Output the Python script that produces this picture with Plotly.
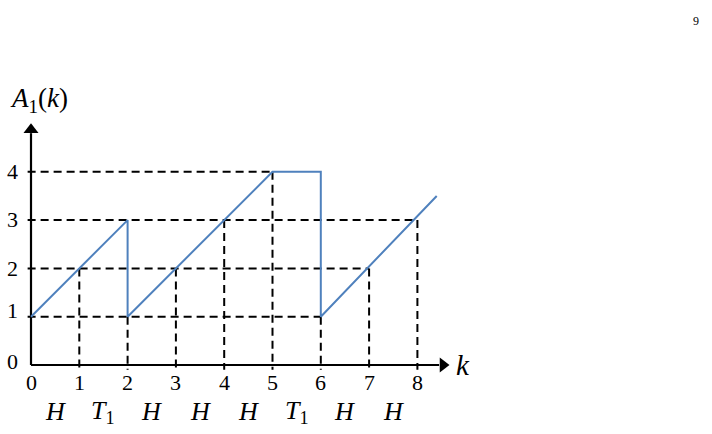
import plotly.graph_objects as go

# ---- data ----
blue_k = [0, 2, 2, 5, 6, 6, 8.4]
blue_a = [1, 3, 1, 4, 4, 1, 3.5]

h_levels = [1, 2, 3, 4]
h_ends = [6, 7, 8, 5]

v_ks = [1, 2, 3, 4, 5, 6, 7, 8]
v_tops = [2, 1, 2, 3, 4, 1, 2, 3]

x_ticks = [0, 1, 2, 3, 4, 5, 6, 7, 8]
y_ticks = [0, 1, 2, 3, 4]
y_tick_shift = [4, 6, 0, 1, 0]

events = ["H", "T1", "H", "H", "H", "T1", "H", "H"]

# ---- geometry ----
W, H = 712, 434
PX = 48.3
X0PX, Y0PX = 31, 365
xr = [-X0PX / PX, (W - X0PX) / PX]
yr = [-(H - Y0PX) / PX, Y0PX / PX]

SERIF = "Liberation Serif"
fig = go.Figure()

dash = "8px,5px"
for lvl, end in zip(h_levels, h_ends):
    fig.add_trace(go.Scatter(x=[-0.07, end], y=[lvl, lvl], mode="lines",
                             line=dict(color="black", width=2, dash=dash),
                             hoverinfo="skip", showlegend=False))
for k, top in zip(v_ks, v_tops):
    fig.add_trace(go.Scatter(x=[k, k], y=[top, -0.1], mode="lines",
                             line=dict(color="black", width=2, dash=dash),
                             hoverinfo="skip", showlegend=False))

# axes
fig.add_trace(go.Scatter(x=[0, 0], y=[0, 4.8], mode="lines",
                         line=dict(color="black", width=2.2),
                         hoverinfo="skip", showlegend=False))
fig.add_trace(go.Scatter(x=[0, 8.45], y=[0, 0], mode="lines",
                         line=dict(color="black", width=2.2),
                         hoverinfo="skip", showlegend=False))
fig.add_trace(go.Scatter(x=[0], y=[4.87], mode="markers",
                         marker=dict(symbol="triangle-up", size=13, color="black"),
                         hoverinfo="skip", showlegend=False))
fig.add_trace(go.Scatter(x=[8.53], y=[0], mode="markers",
                         marker=dict(symbol="triangle-right", size=13, color="black"),
                         hoverinfo="skip", showlegend=False))

# blue series
fig.add_trace(go.Scatter(x=blue_k, y=blue_a, mode="lines",
                         line=dict(color="#4f81bd", width=2),
                         hoverinfo="skip", showlegend=False))

# tick labels
for t in x_ticks:
    fig.add_annotation(x=t, y=-0.37, text=str(t), showarrow=False,
                       font=dict(family=SERIF, size=22, color="black"))
for t, s in zip(y_ticks, y_tick_shift):
    fig.add_annotation(x=-0.39, y=t, yshift=s, text=str(t), showarrow=False,
                       font=dict(family=SERIF, size=22, color="black"))

# event labels
for i, e in enumerate(events):
    txt = "<i>T</i><sub>1</sub>" if e == "T1" else "<i>%s</i>" % e
    fig.add_annotation(x=i + 0.5, y=-0.97, text=txt, showarrow=False,
                       font=dict(family=SERIF, size=26, color="black"))

# axis titles
fig.add_annotation(x=-0.47, y=5.49, text="<i>A</i><sub>1</sub>(<i>k</i>)", showarrow=False,
                   xanchor="left", font=dict(family=SERIF, size=27, color="black"))
fig.add_annotation(x=8.94, y=0.0, text="<i>k</i>", showarrow=False,
                   font=dict(family=SERIF, size=29, color="black"))

# page number
fig.add_annotation(x=701 / W, y=1 - 12 / H, xref="paper", yref="paper",
                   text="9", showarrow=False,
                   font=dict(family=SERIF, size=12, color="black"))

fig.update_layout(
    width=W, height=H, margin=dict(l=0, r=0, t=0, b=0),
    paper_bgcolor="white", plot_bgcolor="white",
    xaxis=dict(range=xr, visible=False, fixedrange=True),
    yaxis=dict(range=yr, visible=False, fixedrange=True),
)

fig.write_html("out.html", config={"displayModeBar": False},
               post_script="document.body.style.margin='0';")
